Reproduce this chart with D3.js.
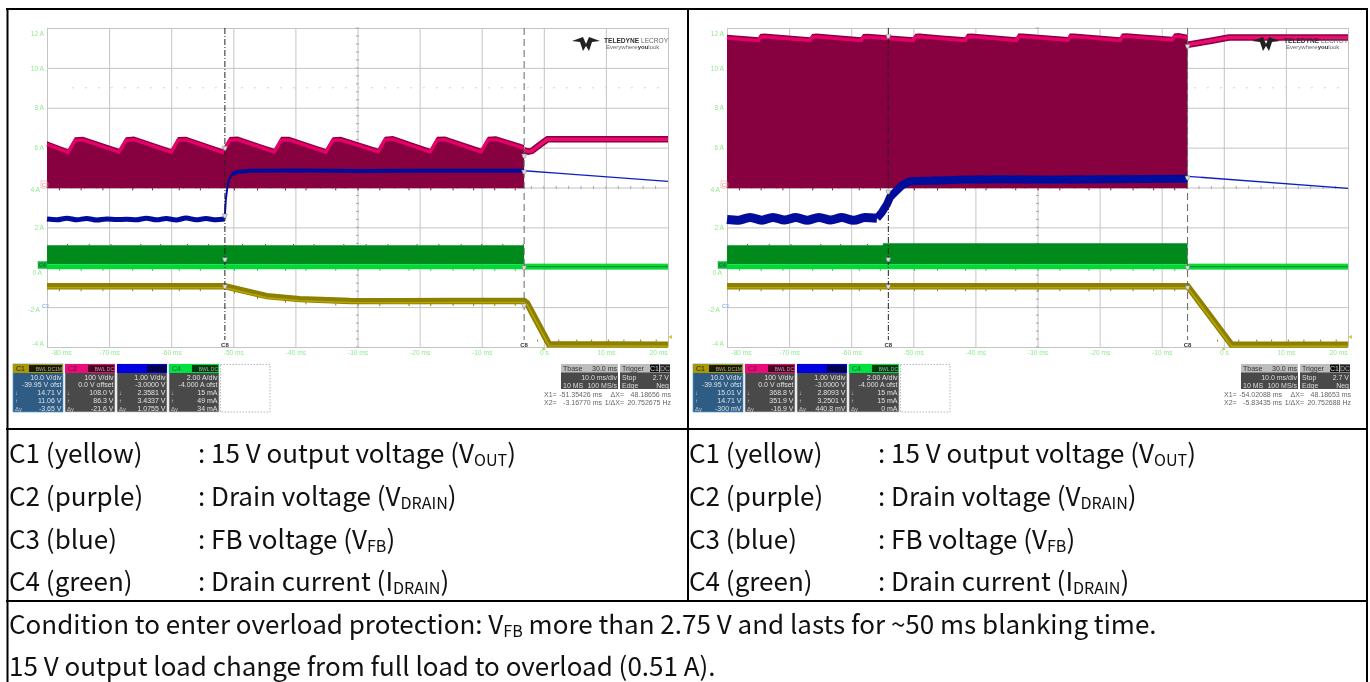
<!DOCTYPE html>
<html><head><meta charset="utf-8">
<script src="https://cdn.jsdelivr.net/npm/d3@7"></script>
<style>html,body{margin:0;padding:0;background:#fff;overflow:hidden}svg{display:block}</style>
</head><body><svg id="c" width="1370" height="682"></svg>
<script>
// ---------- data ----------
const timeTicks = [-80,-70,-60,-50,-40,-30,-20,-10,0,10,20];
const timeLabels = ["-80 ms","-70 ms","-60 ms","-50 ms","-40 ms","-30 ms","-20 ms","-10 ms","0 s","10 ms","20 ms"];
const ampTicks = [12,10,8,6,4,2,0,-2,-4];

const leftC2T = [-80,-76.6,-75.5,-74.2,-68.4,-67.3,-66.0,-60.0,-58.9,-57.6,-51.7,-50.6,-49.3,-43.4,-42.3,-41.0,-35.1,-34.0,-32.7,-26.7,-25.6,-24.3,-18.3,-17.2,-15.9,-10.1,-9.0,-7.7,-3.17];
const leftC2V = [6.32,5.92,6.52,6.55,5.94,6.52,6.56,5.93,6.53,6.55,5.92,6.53,6.56,5.94,6.54,6.55,5.93,6.52,6.55,5.95,6.55,6.58,5.94,6.54,6.56,5.95,6.55,6.57,6.13];
const leftC2AfterT = [-3.17,-2.5,-1.9,-0.6,0.6,20];
const leftC2AfterV = [5.86,5.80,5.84,6.15,6.42,6.42];
const leftC3BeforeT = [-80,-78.4,-76.8,-75.2,-73.6,-72,-70.4,-68.8,-67.2,-65.6,-64,-62.4,-60.8,-59.2,-57.6,-56,-54.4,-52.8,-51.4];
const leftC3BeforeV = [2.42,2.38,2.46,2.38,2.45,2.37,2.42,2.39,2.41,2.38,2.46,2.38,2.44,2.37,2.47,2.38,2.44,2.38,2.42];
const leftC3RiseT = [-51.4,-51.2,-51.0,-50.7,-50.2];
const leftC3RiseV = [2.42,3.41,3.91,4.41,4.66];
const leftC3FlatT = [-50.2,-49.4,-47.3,-40,-30,-20,-10,-3.17];
const leftC3FlatV = [4.66,4.78,4.84,4.85,4.83,4.84,4.84,4.84];
const leftC3DecayT = [-3.17,2.6,20];
const leftC3DecayV = [4.84,4.71,4.31];
const leftC1T = [-80,-51.35,-48.9,-44.6,-39.3,-31.2,-23.2,-15.1,-3.17,-2.7,0.85,20];
const leftC1V = [-0.95,-0.95,-1.14,-1.45,-1.60,-1.69,-1.70,-1.69,-1.69,-1.80,-3.86,-3.88];

const rightC2T = [-80,-74.9,-74.68,-74.0,-66.6,-66.3,-65.6,-58.4,-58.1,-57.4,-50.0,-49.7,-49.0,-41.6,-41.35,-40.6,-33.4,-33.1,-32.4,-25.1,-24.8,-24.1,-16.7,-16.4,-15.7,-8.3,-8.0,-7.3,-5.83];
const rightC2V = [11.66,11.53,11.70,11.72,11.54,11.70,11.72,11.53,11.70,11.71,11.54,11.71,11.72,11.53,11.71,11.73,11.54,11.72,11.73,11.55,11.72,11.73,11.54,11.72,11.74,11.56,11.73,11.75,11.66];
const rightC2AfterT = [-5.83,-2,0.8,20];
const rightC2AfterV = [11.16,11.36,11.52,11.52];
const rightC3BeforeT = [-80,-78.1,-76.3,-74.4,-72.6,-70.7,-68.9,-67,-65.2,-63.3,-61.5,-59.6,-57.8,-55.85];
const rightC3BeforeV = [2.40,2.36,2.50,2.36,2.50,2.37,2.49,2.36,2.50,2.37,2.49,2.36,2.49,2.46];
const rightC3RiseT = [-55.85,-55.04,-54.24,-53.75,-52.95,-51.82,-50.53,-47.31,-42.48,-36.04,-27.99,-19.93,-5.83];
const rightC3RiseV = [2.46,2.76,3.16,3.51,3.76,4.11,4.31,4.34,4.39,4.41,4.39,4.41,4.44];
const rightC3DecayT = [-5.83,20];
const rightC3DecayV = [4.56,3.96];
const rightC1T = [-80,-5.83,1.24,20];
const rightC1V = [-0.95,-0.95,-3.88,-3.88];

const c2Floor = 3.96;
const c4LeftTop = [[-80,1.10],[-3.17,1.10]];
const c4RightTop = [[-80,1.10],[-55,1.10],[-54.9,1.2],[-5.83,1.2]];
const c4PulseLow = 0.15, c4Low = -0.10, c4OffHigh = 0.18, c4OffLow = -0.12;
const noiseT = [-78,-74.5,-71,-66.2,-63,-58.7,-55.3,-49.8,-46.1,-41.6,-38.3,-33.5,-29.9,-26.4,-21.7,-18.2,-14.6,-11.3,-7.9,-4.6];
const noiseAfterT = [-1,2.4,5.3,7.7,10.4,12.9,15.6,18.1];

const cursorLeft = [-51.35426,-3.16770];
const cursorRight = [-54.02088,-5.83435];

const chNames = ["C1","C2","C3","C4"];
const chDiv = ["10.0 V/div","100 V/div","1.00 V/div","2.00 A/div"];
const chOff = ["-39.95 V ofst","0.0 V offset","-3.0000 V","-4.000 A ofst"];
const leftTop = ["14.71 V","108.0 V","2.3581 V","15 mA"];
const leftMid = ["11.06 V","86.3 V","3.4337 V","49 mA"];
const leftDelta = ["-3.65 V","-21.6 V","1.0755 V","34 mA"];
const rightTop = ["15.01 V","368.8 V","2.8093 V","15 mA"];
const rightMid = ["14.71 V","351.9 V","3.2501 V","15 mA"];
const rightDelta = ["-300 mV","-16.9 V","440.8 mV","0 mA"];
const leftX = ["-51.35426 ms","48.18656 ms","-3.16770 ms","20.752675 Hz"];
const rightX = ["-54.02088 ms","48.18653 ms","-5.83435 ms","20.752688 Hz"];

const tableRows = [
  ["C1 (yellow)",": 15 V output voltage (V","OUT",")"],
  ["C2 (purple)",": Drain voltage (V","DRAIN",")"],
  ["C3 (blue)",": FB voltage (V","FB",")"],
  ["C4 (green)",": Drain current (I","DRAIN",")"]
];

// ---------- drawing ----------
const svg = d3.select("#c");
const defs = svg.append("defs");
defs.append("filter").attr("id","soft").attr("x","-2%").attr("y","-2%").attr("width","104%").attr("height","104%")
  .append("feGaussianBlur").attr("stdDeviation",0.55);

const zip = (a,b)=>a.map((d,i)=>[d,b[i]]);
const W = 621, H = 319;

function scope(ox, cfg){
  const root = svg.append("g").attr("filter","url(#soft)").attr("transform",`translate(${ox},0)`);
  const x = d3.scaleLinear().domain([-80,20]).range([47,47+W]);
  const y = d3.scaleLinear().domain([-4,12]).range([28+H,28]);
  const line = d3.line().x(d=>x(d[0])).y(d=>y(d[1]));

  // axes & grid
  const ax = root.append("g").attr("transform",`translate(0,${28+H})`)
    .call(d3.axisBottom(x).tickValues(timeTicks).tickSize(-H).tickPadding(3).tickFormat((d,i)=>timeLabels[i]));
  const ay = root.append("g").attr("transform","translate(47,0)")
    .call(d3.axisLeft(y).tickValues(ampTicks).tickSize(-W).tickPadding(3).tickFormat(d=>d+" A"));
  [ax,ay].forEach(a=>{
    a.select(".domain").remove();
    a.selectAll("line").attr("stroke","#c4c4c4").attr("stroke-width",1);
    a.selectAll("text").attr("fill","#8fe98f").attr("font-family","Liberation Sans").attr("font-size",6.6);
  });
  ax.selectAll("text").filter((d,i)=>i===0).attr("text-anchor","start").attr("dx",4);
  ax.selectAll("text").filter((d,i)=>i===10).attr("text-anchor","end").attr("dx",-1);
  ay.selectAll("text").filter(d=>d===12).attr("dy","1.1em");
  ay.selectAll("text").filter(d=>d===-4).attr("dy","-0.2em");
  ay.selectAll("text").filter(d=>d===0).attr("dy","1.05em").attr("dx",-2);
  ay.selectAll("text").filter(d=>d===-2||d===4).attr("dx",-4).attr("dy","0.6em");

  // dotted row, centre ticks
  root.append("line").attr("x1",x(-76)).attr("x2",x(19)).attr("y1",y(9)).attr("y2",y(9))
    .attr("stroke","#d0d0d0").attr("stroke-dasharray","2 11");
  const cx = root.append("g").attr("stroke","#a8a8a8");
  d3.range(-4,12.01,0.4).forEach(v=>cx.append("line").attr("x1",x(-30)-1.5).attr("x2",x(-30)+1.5).attr("y1",y(v)).attr("y2",y(v)));
  d3.range(-78,20,2).forEach(t=>cx.append("line").attr("x1",x(t)).attr("x2",x(t)).attr("y1",y(4)-1.5).attr("y2",y(4)+1.5));

  // logo
  const logo = ()=>{
    const l = root.append("g").attr("transform","translate(572,37)");
    l.append("path").attr("fill","#222").attr("d","M0 4 L11 0 L14 7 L17 0 L28 4 L20 5 L17 14 L14 9 L11 14 L8 5Z");
    l.append("text").attr("x",32).attr("y",6).attr("font-family","Liberation Sans").attr("font-size",6.6).attr("font-weight",700).attr("fill","#333")
      .text("TELEDYNE ").append("tspan").attr("font-weight",400).attr("fill","#666").text("LECROY");
    l.append("text").attr("x",34).attr("y",12).attr("font-family","Liberation Sans").attr("font-size",6).attr("fill","#666")
      .text("Everywhere").append("tspan").attr("font-weight",700).attr("fill","#333").text("you").append("tspan").attr("font-weight",400).attr("fill","#666").text("look");
  };

  const tEnd = cfg.cursors[1];
  // C2
  const top = zip(cfg.c2T,cfg.c2V);
  root.append("path").attr("fill","#87003f")
    .attr("d",d3.area().x(d=>x(d[0])).y0(y(c2Floor)).y1(d=>y(d[1]))(top));
  root.append("path").attr("fill","none").attr("stroke","#e8056a").attr("stroke-width",3.4)
    .attr("transform","translate(0,3.2)").attr("d",line(top));
  noiseT.filter(t=>t<tEnd).forEach(t=>root.append("line").attr("x1",x(t)).attr("x2",x(t)).attr("y1",y(c2Floor)).attr("y2",y(c2Floor)+2).attr("stroke","#87003f"));
  const after = zip(cfg.c2AfterT,cfg.c2AfterV);
  root.append("path").attr("fill","none").attr("stroke","#8c0045").attr("stroke-width",6.5).attr("d",line(after));
  root.append("path").attr("fill","none").attr("stroke","#ea0a6e").attr("stroke-width",3.4).attr("d",line(after));

  // C4
  const c4 = root.append("g");
  c4.append("path").attr("fill","#008a1f")
    .attr("d",d3.area().curve(d3.curveStepAfter).x(d=>x(d[0])).y0(y(c4PulseLow)).y1(d=>y(d[1]))(cfg.c4Top));
  c4.append("rect").attr("x",x(-80)).attr("width",x(tEnd)-x(-80)).attr("y",y(c4PulseLow)).attr("height",y(c4Low)-y(c4PulseLow)).attr("fill","#05d835");
  c4.append("rect").attr("x",x(tEnd)).attr("width",x(20)-x(tEnd)).attr("y",y(c4OffHigh)).attr("height",y(c4OffLow)-y(c4OffHigh)).attr("fill","#0ad83a");
  c4.append("line").attr("x1",x(tEnd)).attr("x2",x(20)).attr("y1",y(0.03)).attr("y2",y(0.03)).attr("stroke","#009a28").attr("stroke-width",1.4);
  noiseT.filter(t=>t<tEnd).forEach((t,i)=>{
    c4.append("line").attr("x1",x(t)).attr("x2",x(t)).attr("y1",y(c4Low)).attr("y2",y(c4Low)+1.5).attr("stroke","#05c030");
    c4.append("line").attr("x1",x(t+1.3)).attr("x2",x(t+1.3)).attr("y1",y(cfg.c4Top[0][1])).attr("y2",y(cfg.c4Top[0][1])-1.3).attr("stroke","#008a1f");
  });

  // C1
  const c1 = zip(cfg.c1T,cfg.c1V);
  root.append("path").attr("fill","none").attr("stroke","#8d7f00").attr("stroke-width",6.4).attr("d",line(c1));
  root.append("path").attr("fill","none").attr("stroke","#b6a600").attr("stroke-width",1.6).attr("transform","translate(0,1.6)").attr("d",line(c1));
  noiseT.filter(t=>t<tEnd).forEach(t=>{
    const v = d3.scaleLinear().domain(cfg.c1T).range(cfg.c1V)(t);
    root.append("line").attr("x1",x(t)).attr("x2",x(t)).attr("y1",y(v)+3).attr("y2",y(v)+5).attr("stroke","#8d7f00");
  });
  noiseAfterT.forEach(t=>root.append("line").attr("x1",x(t)).attr("x2",x(t)).attr("y1",y(-3.88)-3).attr("y2",y(-3.88)-5).attr("stroke","#8d7f00"));

  // C3
  root.append("path").attr("fill","none").attr("stroke","#000c9c").attr("stroke-width",cfg.c3W[0]).attr("stroke-linejoin","round").attr("d",line.curve(d3.curveMonotoneX)(zip(cfg.c3BT,cfg.c3BV)));
  line.curve(d3.curveLinear);
  root.append("path").attr("fill","none").attr("stroke","#000c9c").attr("stroke-width",cfg.c3W[1]).attr("d",line(zip(cfg.c3RT,cfg.c3RV)));
  if(cfg.c3FT) root.append("path").attr("fill","none").attr("stroke","#000c9c").attr("stroke-width",cfg.c3W[2]).attr("d",line(zip(cfg.c3FT,cfg.c3FV)));
  root.append("path").attr("fill","none").attr("stroke","#0b1ec4").attr("stroke-width",1.3).attr("d",line(zip(cfg.c3DT,cfg.c3DV)));

  logo();

  // cursors
  root.append("line").attr("x1",x(cfg.cursors[0])).attr("x2",x(cfg.cursors[0])).attr("y1",28).attr("y2",340)
    .attr("stroke","#222").attr("stroke-width",1).attr("stroke-dasharray","6 2 1 2");
  root.append("line").attr("x1",x(cfg.cursors[1])).attr("x2",x(cfg.cursors[1])).attr("y1",28).attr("y2",340)
    .attr("stroke","#666").attr("stroke-width",1).attr("stroke-dasharray","7 4");
  cfg.cursors.forEach(c=>{
    root.append("text").attr("x",x(c)).attr("y",346.5).attr("text-anchor","middle").attr("font-size",6).attr("font-weight",700).attr("font-family","Liberation Sans").attr("fill","#333").text("C8");
    cfg.marks.forEach(m=>{
      const v = m[c===cfg.cursors[0]?0:1];
      root.append("path").attr("d",`M${x(c)-2.5} ${y(v)-1.5}h5l-1.5 4h-2z`).attr("fill","#ddd").attr("stroke","#777").attr("stroke-width",0.5);
    });
  });

  // channel flags
  const flag = (x0,yy,fill,stroke,txt,col)=>{
    root.append("rect").attr("x",x0).attr("y",yy-3.5).attr("width",47-x0).attr("height",7).attr("fill",fill).attr("stroke",stroke).attr("stroke-width",0.5);
    root.append("text").attr("x",x0+0.8).attr("y",yy+2.3).attr("font-size",5.6).attr("font-family","Liberation Sans").attr("fill",col).text(txt);
  };
  flag(41,184.5,"#fff","#e88","C2","#d88");
  flag(38,265,"#12b338","#12b338","C4","#063");
  flag(41,305.5,"#fff","#fff","C3","#6a9fd8");
  root.append("path").attr("d","M668 337l4-2v4z").attr("fill","#d8c840");
  root.append("path").attr("d","M543.8 347l-2 3h4z").attr("fill","#c8c860");

  // channel panels
  const P = root.append("g").attr("font-family","Liberation Sans").attr("font-size",7);
  const hdr = ["#a89a00","#e8107a","#0000e0","#00e040"];
  const hdrDark = ["#1a1a00","#4a0020","#000050","#003a10"];
  chNames.forEach((n,i)=>{
    const bx = 13+i*52, bw = 50;
    P.append("rect").attr("x",bx).attr("y",364).attr("width",bw).attr("height",48).attr("fill",i===0?"#2f5b84":"#4a4a4a").attr("stroke",i===0?"#5aa0dc":"#ccc").attr("stroke-width",0.7);
    P.append("rect").attr("x",bx).attr("y",364).attr("width",bw).attr("height",9).attr("fill",hdr[i]);
    P.append("rect").attr("x",bx+(i===2?30:(i===0?16:23))).attr("y",365).attr("width",bw-(i===2?31:(i===0?17:24))).attr("height",7).attr("fill",hdrDark[i]);
    P.append("text").attr("x",bx+3).attr("y",371.3).attr("fill",i===3?"#063":(i===0?"#222":"#70003a")).text(i===2?"":n);
    if(i!==2) P.append("text").attr("x",bx+bw-1).attr("y",371).attr("text-anchor","end").attr("font-size",5).attr("fill","#aaa").text(i===0?"BWL DC1M":"BWL DC");
    const rows = [chDiv[i],chOff[i],cfg.top[i],cfg.mid[i],cfg.delta[i]];
    rows.forEach((t,j)=>P.append("text").attr("x",bx+bw-1.5).attr("y",379.5+j*7.75).attr("text-anchor","end").attr("fill","#e0e0e0").text(t));
    ["↓","↑","Δy"].forEach((t,j)=>P.append("text").attr("x",bx+2).attr("y",395+j*7.75).attr("fill","#cfcfcf").attr("font-size",6).text(t));
  });
  P.append("rect").attr("x",220.5).attr("y",364.5).attr("width",49.5).attr("height",47.5).attr("fill","none").attr("stroke","#999").attr("stroke-width",0.7).attr("stroke-dasharray","1.5 1.5");

  // timebase
  const TB = root.append("g").attr("font-family","Liberation Sans").attr("font-size",7);
  TB.append("rect").attr("x",561).attr("y",364).attr("width",57).attr("height",25).attr("fill","#4a4a4a");
  TB.append("rect").attr("x",561).attr("y",364).attr("width",57).attr("height",8.5).attr("fill","#bdbdbd");
  TB.append("rect").attr("x",620).attr("y",364).attr("width",50).attr("height",25).attr("fill","#4a4a4a");
  TB.append("rect").attr("x",620).attr("y",364).attr("width",50).attr("height",8.5).attr("fill","#bdbdbd");
  TB.append("rect").attr("x",650).attr("y",364.5).attr("width",9).attr("height",7.5).attr("fill","#111");
  TB.append("rect").attr("x",660).attr("y",364.5).attr("width",10).attr("height",7.5).attr("fill","#222");
  const tt=(xx,yy,s,a,c)=>TB.append("text").attr("x",xx).attr("y",yy).attr("text-anchor",a).attr("fill",c).text(s);
  tt(563,371,"Tbase","start","#333"); tt(617,371,"30.0 ms","end","#333");
  tt(622,371,"Trigger","start","#333"); tt(654.5,371,"C1","middle","#ccc"); tt(665,371,"DC","middle","#aaa");
  tt(617,379.5,"10.0 ms/div","end","#ddd"); tt(563,387.5,"10 MS","start","#ddd"); tt(617,387.5,"100 MS/s","end","#ddd");
  tt(622,379.5,"Stop","start","#ddd"); tt(669,379.5,"2.7 V","end","#ddd");
  tt(622,387.5,"Edge","start","#ddd"); tt(669,387.5,"Neg","end","#ddd");
  tt(544,396.5,"X1=","start","#666"); tt(602,396.5,cfg.xs[0],"end","#666");
  tt(624,396.5,"ΔX=","end","#666"); tt(671,396.5,cfg.xs[1],"end","#666");
  tt(544,404.5,"X2=","start","#666"); tt(602,404.5,cfg.xs[2],"end","#666");
  tt(624,404.5,"1/ΔX=","end","#666"); tt(671,404.5,cfg.xs[3],"end","#666");
}

scope(0,{c2T:leftC2T,c2V:leftC2V,c2AfterT:leftC2AfterT,c2AfterV:leftC2AfterV,
  c3BT:leftC3BeforeT,c3BV:leftC3BeforeV,c3RT:leftC3RiseT,c3RV:leftC3RiseV,c3FT:leftC3FlatT,c3FV:leftC3FlatV,c3DT:leftC3DecayT,c3DV:leftC3DecayV,c3W:[5,2,4],
  c1T:leftC1T,c1V:leftC1V,c4Top:c4LeftTop,cursors:cursorLeft,marks:[[6.0,5.6],[2.6,4.8],[0.4,0.0],[-0.95,-1.9]],
  top:leftTop,mid:leftMid,delta:leftDelta,xs:leftX});
scope(680,{c2T:rightC2T,c2V:rightC2V,c2AfterT:rightC2AfterT,c2AfterV:rightC2AfterV,
  c3BT:rightC3BeforeT,c3BV:rightC3BeforeV,c3RT:rightC3RiseT,c3RV:rightC3RiseV,c3DT:rightC3DecayT,c3DV:rightC3DecayV,c3W:[9,8,8],
  c1T:rightC1T,c1V:rightC1V,c4Top:c4RightTop,cursors:cursorRight,marks:[[11.6,11.1],[3.8,4.5],[0.4,0.0],[-0.95,-1.0]],
  top:rightTop,mid:rightMid,delta:rightDelta,xs:rightX});

// table text
const font = "'Noto Sans CJK SC','Noto Sans',sans-serif";
const fs = 26;
const T = svg.append("g").attr("font-family",font).attr("font-size",fs).attr("fill","#111");
function sub(sel,a,b,c){
  sel.append("tspan").text(a);
  sel.append("tspan").attr("font-size",fs*0.62).attr("dy",3).text(b);
  sel.append("tspan").attr("dy",-3).text(c);
}
[9,689].forEach((ox,k)=>{
  tableRows.forEach((r,i)=>{
    const yy = 463+i*42.8;
    T.append("text").attr("x",ox).attr("y",yy).text(r[0]);
    sub(T.append("text").attr("x",ox+189).attr("y",yy),r[1],r[2],r[3]);
  });
});
sub(T.append("text").attr("x",9).attr("y",634),"Condition to enter overload protection: V","FB"," more than 2.75 V and lasts for ~50 ms blanking time.");
T.append("text").attr("x",9).attr("y",676).text("15 V output load change from full load to overload (0.51 A).");

// table rules
const rule=(x1,y1,x2,y2)=>svg.append("line").attr("x1",x1).attr("y1",y1).attr("x2",x2).attr("y2",y2).attr("stroke","#000").attr("stroke-width",2);
rule(7.5,8,7.5,682); rule(1367,8,1367,682); rule(688,8,688,601);
rule(6,9,1368,9); rule(6,429,1368,429); rule(6,601,1368,601);
</script></body></html>
